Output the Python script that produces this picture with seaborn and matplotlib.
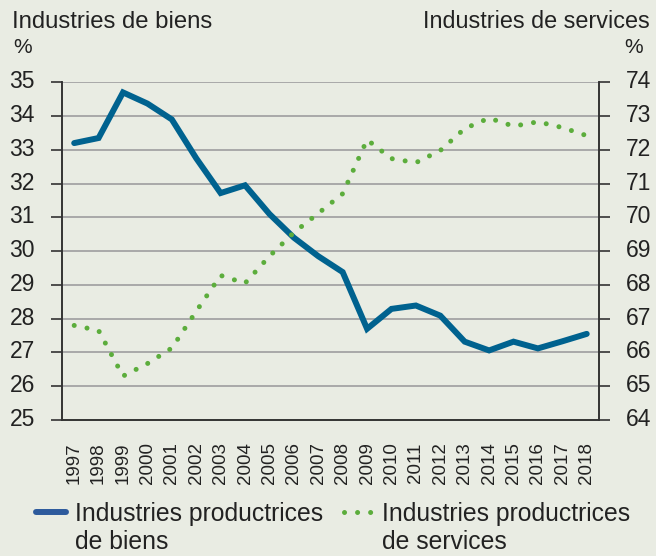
import pandas as pd
import numpy as np
import matplotlib
matplotlib.use("Agg")
import matplotlib.pyplot as plt
import matplotlib.transforms as mtransforms
import seaborn as sns
from matplotlib.lines import Line2D

# Données
annees = [str(a) for a in range(1997, 2019)]
biens = [33.2, 33.35, 34.7, 34.37, 33.9, 32.75, 31.72, 31.95, 31.1, 30.4, 29.85,
         29.38, 27.7, 28.29, 28.39, 28.09, 27.32, 27.06, 27.32, 27.12, 27.33, 27.55]
services = [66.8, 66.65, 65.3, 65.67, 66.13, 67.22, 68.28, 68.05, 68.85, 69.55, 70.12,
            70.7, 72.3, 71.74, 71.62, 71.98, 72.63, 72.94, 72.7, 72.83, 72.66, 72.42]
ticks_biens = list(range(25, 36))
ticks_services = list(range(64, 75))
legende_l1 = ["Industries productrices", "Industries productrices"]
legende_l2 = ["de biens", "de services"]

df = pd.DataFrame({"annee": annees, "biens": biens, "services": services})

bg = "#E9ECE3"
bleu = "#00628F"
bleu_leg = "#2D5A9C"
vert = "#5CAD3C"
texte = "#222222"
dots = (0, (0.01, 2.6))

sns.set_style("white")
plt.rcParams["font.family"] = ["Liberation Sans", "DejaVu Sans"]
plt.rcParams["text.color"] = texte

fig = plt.figure(figsize=(6.56, 5.56), dpi=100, facecolor=bg)
ax = fig.add_axes([0.0945, 0.2446, 0.8185, 0.6074])
ax.set_facecolor(bg)

sns.lineplot(data=df, x="annee", y="biens", ax=ax, color=bleu, linewidth=4.3,
             solid_capstyle="round", solid_joinstyle="miter", sort=False)
ax2 = ax.twinx()
sns.lineplot(data=df, x="annee", y="services", ax=ax2, color=vert, linewidth=3.6,
             linestyle=dots, dash_capstyle="round", sort=False)

ax.set_ylim(25, 35)
ax2.set_ylim(64, 74)
ax.set_yticks(ticks_biens)
ax2.set_yticks(ticks_services)
ax.set_xlim(-0.5, len(annees) - 0.5)

for y in ticks_biens[1:]:
    ax.axhline(y, color="#A9A9A9", linewidth=1.4, zorder=0)

ax.set_xticks(range(len(annees)))
ax.set_xticklabels(annees, rotation=90)
ax.set_xticks(np.arange(-0.5, len(annees), 1), minor=True)
ax.tick_params(axis="x", which="major", length=0, pad=16, labelsize=13.5, labelcolor=texte)
ax.tick_params(axis="x", which="minor", length=7, width=1.2, color="#333333", direction="out")
ax.tick_params(axis="y", length=8, width=1.2, color="#333333", pad=11.5, labelsize=16.5, labelcolor=texte)
ax2.tick_params(axis="y", length=8, width=1.2, color="#333333", pad=11.5, labelsize=16.5, labelcolor=texte)

# les étiquettes des axes y sont un peu au-dessus des graduations
decal = mtransforms.ScaledTranslation(0, 3 / 100, fig.dpi_scale_trans)
for lab in ax.get_yticklabels() + ax2.get_yticklabels():
    lab.set_transform(lab.get_transform() + decal)

ax.set_xlabel("")
ax.set_ylabel("")
ax2.set_ylabel("")

for a in (ax, ax2):
    a.spines["top"].set_visible(False)
    for s in ("left", "right", "bottom"):
        a.spines[s].set_color("#333333")
        a.spines[s].set_linewidth(1.2)

fig.text(0.018, 0.95, "Industries de biens", fontsize=17.2, ha="left", va="baseline")
fig.text(0.02, 0.914, "%", fontsize=15, ha="left", va="center")
fig.text(0.991, 0.95, "Industries de services", fontsize=16.8, ha="right", va="baseline")
fig.text(0.98, 0.914, "%", fontsize=15, ha="right", va="center")

handles = [Line2D([], [], color=bleu_leg, linewidth=4.3, solid_capstyle="round"),
           Line2D([], [], color=vert, linewidth=3.6, linestyle=dots, dash_capstyle="round")]
leg = fig.legend(handles, legende_l1, loc="center left", bbox_to_anchor=(0.055, 0.0755), ncol=2,
                 frameon=False, fontsize=17.8, handlelength=1.2, handletextpad=0.36,
                 columnspacing=0.85, borderpad=0, borderaxespad=0)

# deuxième ligne des libellés de la légende
fig.canvas.draw()
r = fig.canvas.get_renderer()
inv = fig.transFigure.inverted()
for t, l2 in zip(leg.get_texts(), legende_l2):
    bb = t.get_window_extent(r)
    x0, y0 = inv.transform((bb.x0, bb.y0 - 28))
    fig.text(x0, y0, l2, fontsize=17.8, ha="left", va="bottom")

fig.savefig("out.png", dpi=100, facecolor=bg)
